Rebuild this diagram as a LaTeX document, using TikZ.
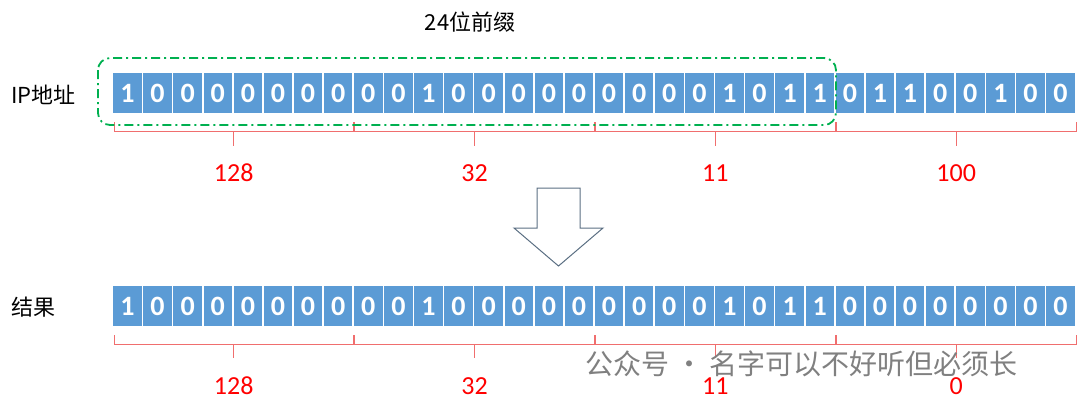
\documentclass[tikz,border=0pt]{standalone}
\usepackage{fontspec}
\setmainfont{Carlito}
\newfontfamily\cjk{Noto Sans CJK SC}
\begin{document}
\begin{tikzpicture}[x=1pt,y=-1pt,
  bit/.style={fill=cellblue,draw=none,minimum width=28.5pt,minimum height=40pt,inner sep=0pt,text=white,font=\bfseries\fontsize{28}{28}\selectfont,anchor=north west},
  br/.style={draw=bracered,line width=0.8pt},
  num/.style={text=red,font=\fontsize{26}{26}\selectfont},
  lab/.style={font=\cjk\fontsize{22}{22}\selectfont}]
\definecolor{cellblue}{RGB}{91,155,213}
\definecolor{bracered}{RGB}{240,110,110}
\definecolor{dgreen}{RGB}{0,176,80}
\definecolor{arrowgray}{RGB}{90,110,130}
\useasboundingbox (0,0) rectangle (1080,408);
\foreach \b [count=\i from 0] in {1,0,0,0,0,0,0,0,0,0,1,0,0,0,0,0,0,0,0,0,1,0,1,1,0,1,1,0,0,1,0,0}{
  \pgfmathsetmacro{\xx}{113+30.1*\i}
  \node[bit] (a\i) at (\xx,73) {\b};
}
\foreach \b [count=\i from 0] in {1,0,0,0,0,0,0,0,0,0,1,0,0,0,0,0,0,0,0,0,1,0,1,1,0,0,0,0,0,0,0,0}{
  \pgfmathsetmacro{\xx}{113+30.1*\i}
  \node[bit] (b\i) at (\xx,286) {\b};
}
\foreach \g/\la/\lb [count=\k from 0] in {0/128/128,1/32/32,2/11/11,3/100/0}{
  \pgfmathsetmacro{\xa}{114+240.8*\g}
  \pgfmathsetmacro{\xb}{\xa+239.5}
  \pgfmathsetmacro{\xm}{(\xa+\xb)/2}
  \draw[br] (\xa,122) -- (\xa,131) -- (\xb,131) -- (\xb,122) (\xm,131) -- (\xm,146);
  \draw[br] (\xa,335) -- (\xa,344) -- (\xb,344) -- (\xb,335) (\xm,344) -- (\xm,358);
  \node[num] (ta\k) at (\xm,173) {\la};
  \node[num] (tb\k) at (\xm,386) {\lb};
}
\draw[dgreen,line width=1.8pt,dash pattern=on 9pt off 4pt on 2pt off 4pt,rounded corners=12pt] (98,58) rectangle (836,125);
\draw[arrowgray,line width=1pt] (537,188) -- (580,188) -- (580,228) -- (603,228) -- (558.5,266) -- (514,228) -- (537,228) -- cycle;
\node[lab] (pre) at (470,22) {24位前缀};
\node[lab,anchor=west] (ip) at (8,95) {IP地址};
\node[lab,anchor=west] (res) at (8,307) {结果};
\node[font=\cjk\fontsize{28}{28}\selectfont,text=gray,anchor=west,inner sep=0pt] (wm) at (585,364) {公众号 · 名字可以不好听但必须长};
\end{tikzpicture}
\end{document}
